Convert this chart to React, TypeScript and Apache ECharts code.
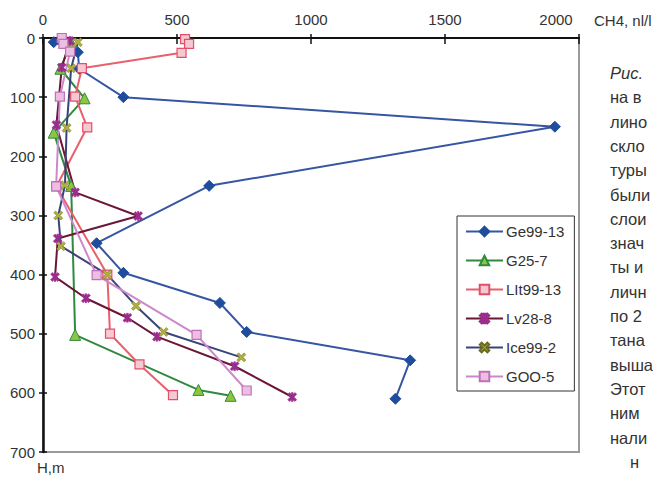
import React, { useEffect, useRef } from "react";
import * as echarts from "echarts";

// ---- data: [CH4 nl/l, depth m] ----
const X_TICKS = [0, 500, 1000, 1500, 2000];
const Y_TICKS = [0, 100, 200, 300, 400, 500, 600, 700];

const SERIES_NAMES = ["Ge99-13", "G25-7", "LIt99-13", "Lv28-8", "Ice99-2", "GOO-5"];

const ge99_13 = [
  [40, 7], [130, 24], [135, 52], [300, 100], [1910, 150], [620, 250],
  [200, 347], [300, 397], [660, 448], [760, 497], [1370, 545], [1315, 610],
];
const g25_7 = [
  [105, 7], [65, 52], [155, 102], [40, 160], [105, 250], [120, 502], [580, 595], [700, 605],
];
const lit99_13 = [
  [530, 2], [545, 10], [517, 25], [145, 51], [120, 99], [165, 151], [50, 251],
  [240, 400], [250, 500], [360, 552], [485, 604],
];
const lv28_8 = [
  [100, 5], [70, 50], [50, 147], [120, 261], [355, 301], [55, 339], [45, 404],
  [160, 440], [315, 473], [425, 505], [715, 555], [930, 607],
];
const ice99_2 = [
  [130, 7], [105, 51], [88, 152], [82, 249], [57, 300], [67, 352], [240, 400],
  [347, 453], [450, 497], [740, 540],
];
const goo_5 = [
  [70, 0], [76, 10], [101, 23], [63, 99], [49, 251], [200, 401], [573, 502], [760, 596],
];

const RIGHT_TEXT = [
  "Рис.", "на в", "лино", "скло", "туры", "были", "слои", "знач", "ты и",
  "личн", "по 2", "тана", "выша", "Этот", "ним", "нали", "н",
];

const FONT = "'Liberation Sans', Arial, sans-serif";
const X_PATH = "path://M0,2 L2,0 L5,3 L8,0 L10,2 L7,5 L10,8 L8,10 L5,7 L2,10 L0,8 L3,5 Z";
const STAR_PATH =
  "path://M0,2 L2,0 L5,3 L8,0 L10,2 L7,5 L10,8 L8,10 L5,7 L2,10 L0,8 L3,5 Z M4,0 L6,0 L6,10 L4,10 Z";

export default function App() {
  const ref = useRef<HTMLDivElement>(null);
  useEffect(() => {
    if (!ref.current) return;
    const chart = echarts.init(ref.current, null, { renderer: "svg" });

    const mk = (
      name: string,
      data: number[][],
      line: string,
      symbol: string,
      size: number,
      fill: string,
      border: string,
      bw: number
    ) => ({
      name,
      type: "line",
      data,
      xAxisIndex: 0,
      yAxisIndex: 0,
      symbol,
      symbolSize: size,
      showAllSymbol: true,
      lineStyle: { color: line, width: 2 },
      itemStyle: { color: fill, borderColor: border, borderWidth: bw },
      emphasis: { disabled: true },
    });

    const axisLabelStyle = { color: "#333", fontSize: 15, fontFamily: FONT };

    const option: any = {
      animation: false,
      backgroundColor: "#fff",
      grid: {
        left: 43,
        top: 38,
        right: 74,
        bottom: 25,
        show: true,
        borderColor: "#9a9a9a",
        borderWidth: 2,
        backgroundColor: "transparent",
      },
      xAxis: [
        {
          type: "value",
          position: "top",
          min: X_TICKS[0],
          max: X_TICKS[X_TICKS.length - 1],
          interval: X_TICKS[1] - X_TICKS[0],
          axisLine: { show: true, lineStyle: { color: "#111", width: 2 } },
          axisTick: { show: true, length: 4, lineStyle: { color: "#111", width: 1.5 } },
          splitLine: { show: false },
          axisLabel: {
            ...axisLabelStyle,
            margin: 11,
            formatter: (v: number) => (v === X_TICKS[X_TICKS.length - 1] ? "{l|" + v + "}" : String(v)),
            rich: { l: { ...axisLabelStyle, padding: [0, 46, 0, 0] } },
          },
        },
        {
          type: "value",
          position: "top",
          min: X_TICKS[0],
          max: X_TICKS[X_TICKS.length - 1],
          interval: X_TICKS[1] - X_TICKS[0],
          axisLine: { show: false },
          axisTick: { show: true, inside: true, length: 6, lineStyle: { color: "#111", width: 1.5 } },
          axisLabel: { show: false },
          splitLine: { show: false },
        },
      ],
      yAxis: [
        {
          type: "value",
          inverse: true,
          min: Y_TICKS[0],
          max: Y_TICKS[Y_TICKS.length - 1],
          interval: Y_TICKS[1] - Y_TICKS[0],
          axisLine: { show: true, lineStyle: { color: "#111", width: 2.5 } },
          axisTick: { show: true, length: 4, lineStyle: { color: "#111", width: 1.5 } },
          splitLine: { show: false },
          axisLabel: { ...axisLabelStyle, margin: 8 },
        },
        {
          type: "value",
          inverse: true,
          position: "left",
          min: Y_TICKS[0],
          max: Y_TICKS[Y_TICKS.length - 1],
          interval: Y_TICKS[1] - Y_TICKS[0],
          axisLine: { show: false },
          axisTick: { show: true, inside: true, length: 4, lineStyle: { color: "#111", width: 1.5 } },
          axisLabel: { show: false },
          splitLine: { show: false },
        },
      ],
      legend: {
        orient: "vertical",
        left: 457,
        top: 216,
        padding: [8, 10, 7, 8],
        itemWidth: 37,
        itemHeight: 12,
        itemGap: 14,
        backgroundColor: "#fff",
        borderColor: "#333",
        borderWidth: 1,
        borderRadius: 0,
        textStyle: { color: "#333", fontSize: 15, fontFamily: FONT, padding: [0, 0, 0, -2] },
        data: SERIES_NAMES,
        selectedMode: false,
      },
      graphic: [
        {
          type: "text",
          x: 37,
          y: 467,
          style: { text: "H,m", fill: "#333", font: "15px " + FONT, verticalAlign: "middle", align: "left" },
        },
        {
          type: "text",
          x: 594,
          y: 20,
          style: { text: "CH4, nl/l", fill: "#333", font: "15px " + FONT, verticalAlign: "middle", align: "left" },
        },
        ...RIGHT_TEXT.map((t, i) => ({
          type: "text",
          x: i === RIGHT_TEXT.length - 1 ? 630 : 610,
          y: 73 + i * 24.3,
          style: {
            text: t,
            fill: "#333",
            font: (i === 0 ? "italic " : "") + "16.5px " + FONT,
            verticalAlign: "middle",
            align: "left",
          },
        })),
      ],
      series: [
        mk(SERIES_NAMES[0], ge99_13, "#3656a3", "diamond", 11, "#1f4c9c", "#1f4c9c", 1),
        mk(SERIES_NAMES[1], g25_7, "#2f8a3f", "triangle", 11, "#8cc63f", "#2f8a3f", 1),
        mk(SERIES_NAMES[2], lit99_13, "#e8606c", "rect", 9, "#f6c8d2", "#e0506a", 1.2),
        mk(SERIES_NAMES[3], lv28_8, "#6b1636", STAR_PATH, 9, "#9b2d8e", "#9b2d8e", 0.5),
        mk(SERIES_NAMES[4], ice99_2, "#3a4478", X_PATH, 9, "#b0b040", "#6a6a20", 0.5),
        mk(SERIES_NAMES[5], goo_5, "#cc88cc", "rect", 9, "#ecbfe2", "#c070b8", 1.2),
      ],
    };
    chart.setOption(option);
    return () => chart.dispose();
  }, []);
  return (
    <div
      ref={ref}
      style={{ position: "fixed", left: 0, top: 0, width: 653, height: 477, background: "#fff" }}
    />
  );
}
